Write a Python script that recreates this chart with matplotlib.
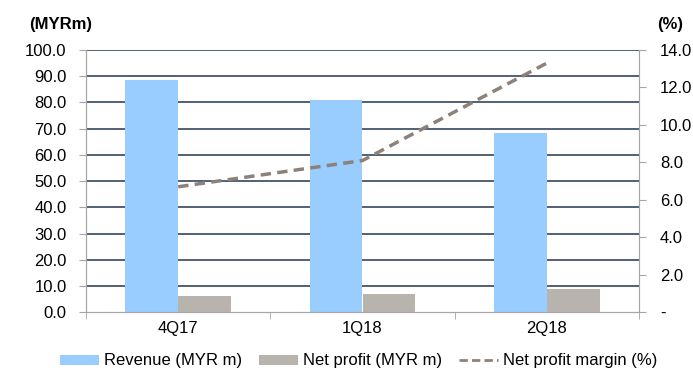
import matplotlib
matplotlib.use("Agg")
import matplotlib.pyplot as plt
import numpy as np
from matplotlib.lines import Line2D
from matplotlib.patches import Patch

plt.rcParams['font.family'] = ['Liberation Sans', 'DejaVu Sans']

categories = ["4Q17", "1Q18", "2Q18"]
revenue = [88.5, 80.9, 68.3]
net_profit = [6.1, 6.8, 9.0]
margin = [6.7, 8.1, 13.3]
left_ticks = [0, 10, 20, 30, 40, 50, 60, 70, 80, 90, 100]
right_ticks = [0, 2, 4, 6, 8, 10, 12, 14]
right_labels = ["-", "2.0", "4.0", "6.0", "8.0", "10.0", "12.0", "14.0"]

rev_color = "#99CCFF"
np_color = "#B8B3AD"
line_color = "#8C827A"
grid_color = "#44546A"
axis_gray = "#A6A6A6"
fs = 12

fig = plt.figure(figsize=(6.93, 3.69), dpi=100)
ax = fig.add_axes([86/693, 1-312.3/369, (639-86)/693, (312.3-50)/369])
ax2 = ax.twinx()

x = np.arange(len(categories))
w = 0.287
ax.bar(x - w/2, revenue, width=w, color=rev_color, zorder=3)
ax.bar(x + w/2, net_profit, width=w, color=np_color, zorder=3)

ax.set_xlim(-0.5, len(categories) - 0.5)
ax.set_ylim(0, 100)
ax.set_yticks(left_ticks)
ax.set_yticklabels([f"{v:.1f}" for v in left_ticks], fontsize=fs)
for v in left_ticks[1:]:
    ax.axhline(v, color=grid_color, lw=1.3, zorder=1)

ax.set_xticks(x)
ax.set_xticklabels(categories, fontsize=fs)
ax.tick_params(axis='x', length=0, pad=6)
ax.set_xticks(np.arange(-0.5, len(categories)), minor=True)
ax.tick_params(axis='x', which='minor', length=5, color=axis_gray, direction='out')
ax.tick_params(axis='y', length=5, color=axis_gray, pad=9, direction='out')

for a in (ax, ax2):
    a.spines['top'].set_visible(False)
    a.spines['left'].set_color(axis_gray)
    a.spines['right'].set_color(axis_gray)
    a.spines['bottom'].set_color(axis_gray)

ax2.plot(x, margin, color=line_color, lw=2.5, ls=(0, (3, 1.8)), zorder=4)
ax2.set_ylim(0, 14)
ax2.set_yticks(right_ticks)
ax2.set_yticklabels(right_labels, fontsize=fs)
ax2.tick_params(axis='y', length=5, color=axis_gray, pad=10, direction='out')

ax.set_zorder(ax2.get_zorder() - 1)
ax2.patch.set_visible(False)

fig.text(61/693, 1-25/369, "(MYRm)", fontsize=fs, fontweight='bold', ha='center', va='center')
fig.text(670/693, 1-25/369, "(%)", fontsize=fs, fontweight='bold', ha='center', va='center')

handles = [Patch(facecolor=rev_color, edgecolor='none'),
           Patch(facecolor=np_color, edgecolor='none'),
           Line2D([0], [0], color=line_color, lw=2, ls=(0, (3, 1.5)))]
labels = ["Revenue (MYR m)", "Net profit (MYR m)", "Net profit margin (%)"]
fig.legend(handles, labels, loc='center', bbox_to_anchor=(359/693, 1-361/369), ncol=3,
           frameon=False, fontsize=fs, handlelength=2.35, handleheight=0.55,
           handletextpad=0.3, columnspacing=1.0, borderaxespad=0, borderpad=0)

fig.savefig("out.png", dpi=100)
